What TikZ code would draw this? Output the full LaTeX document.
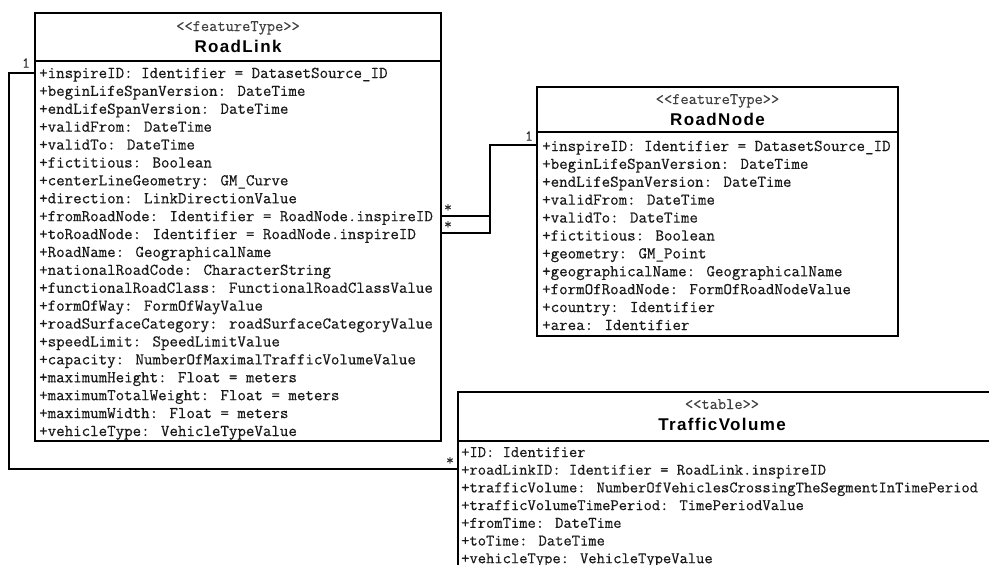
\documentclass[tikz,border=0pt]{standalone}
\usepackage{fontspec}
\setmainfont{Liberation Serif}
\newfontfamily\attrfont[FakeBold=0.4]{Latin Modern Mono}
\newfontfamily\titlefont[LetterSpace=8]{Liberation Sans}
\usetikzlibrary{calc}
\tikzset{
  umlbox/.style={draw=black, line width=1.6pt, fill=white, inner sep=0pt},
  attr/.style={anchor=base west, inner sep=0pt, font=\attrfont\fontsize{16.5}{17}\selectfont, text=black!90},
  tvattr/.style={attr, font=\attrfont\fontsize{16.1}{17}\selectfont},
  stereo/.style={anchor=base, inner sep=0pt, font=\attrfont\fontsize{16}{16}\selectfont, text=black!75},
  umltitle/.style={anchor=base, inner sep=0pt, font=\titlefont\bfseries\fontsize{17}{20}\selectfont},
  mult/.style={inner sep=0pt, font=\attrfont\fontsize{15}{15}\selectfont, text=black!85},
  conn/.style={draw=black, line width=1.6pt},
  divider/.style={draw=black, line width=1.6pt}
}
\begin{document}
\begin{tikzpicture}[x=1pt,y=-1pt]
\useasboundingbox (0,0) rectangle (989,565);
\clip (0,0) rectangle (989,565);
\fill[white] (0,0) rectangle (989,565);

% RoadLink
\node[umlbox, minimum width=406pt, minimum height=428pt] (rl) at (238,227) {};
\draw[divider] ($(rl.north west)+(0,49)$) -- ($(rl.north east)+(0,49)$);
\node[stereo] (rlst) at (238,31) {<<featureType>>};
\node[umltitle] (rlt) at (238,52) {RoadLink};
\foreach \t [count=\i] in {+inspireID: Identifier = DatasetSource\_ID,%
+beginLifeSpanVersion: DateTime,%
+endLifeSpanVersion: DateTime,%
+validFrom: DateTime,%
+validTo: DateTime,%
+fictitious: Boolean,%
+centerLineGeometry: GM\_Curve,%
+direction: LinkDirectionValue,%
+fromRoadNode: Identifier = RoadNode.inspireID,%
+toRoadNode: Identifier = RoadNode.inspireID,%
+RoadName: GeographicalName,%
+nationalRoadCode: CharacterString,%
+functionalRoadClass: FunctionalRoadClassValue,%
+formOfWay: FormOfWayValue,%
+roadSurfaceCategory: roadSurfaceCategoryValue,%
+speedLimit: SpeedLimitValue,%
+capacity: NumberOfMaximalTrafficVolumeValue,%
+maximumHeight: Float = meters,%
+maximumTotalWeight: Float = meters,%
+maximumWidth: Float = meters,%
+vehicleType: VehicleTypeValue}
  \node[attr] (rla\i) at (39,{78+(\i-1)*17.9}) {\t};

% RoadNode
\node[umlbox, minimum width=361pt, minimum height=249pt] (rn) at (717.5,211.5) {};
\draw[divider] ($(rn.north west)+(0,46)$) -- ($(rn.north east)+(0,46)$);
\node[stereo] (rnst) at (717.5,104) {<<featureType>>};
\node[umltitle] (rnt) at (717.5,125) {RoadNode};
\foreach \t [count=\i] in {+inspireID: Identifier = DatasetSource\_ID,%
+beginLifeSpanVersion: DateTime,%
+endLifeSpanVersion: DateTime,%
+validFrom: DateTime,%
+validTo: DateTime,%
+fictitious: Boolean,%
+geometry: GM\_Point,%
+geographicalName: GeographicalName,%
+formOfRoadNode: FormOfRoadNodeValue,%
+country: Identifier,%
+area: Identifier}
  \node[attr] (rna\i) at (542,{151+(\i-1)*17.9}) {\t};

% TrafficVolume
\node[umlbox, minimum width=540pt, minimum height=220pt] (tv) at (728,502) {};
\draw[divider] ($(tv.north west)+(0,50)$) -- ($(tv.north east)+(0,50)$);
\node[stereo] (tvst) at (722,409) {<<table>>};
\node[umltitle] (tvt) at (722,430) {TrafficVolume};
\foreach \t [count=\i] in {+ID: Identifier,%
+roadLinkID: Identifier = RoadLink.inspireID,%
+trafficVolume: NumberOfVehiclesCrossingTheSegmentInTimePeriod,%
+trafficVolumeTimePeriod: TimePeriodValue,%
+fromTime: DateTime,%
+toTime: DateTime,%
+vehicleType: VehicleTypeValue}
  \node[tvattr] (tva\i) at (461,{457+(\i-1)*17.7}) {\t};

% connectors
\coordinate (a1) at ($(rl.north west)+(0,61)$);
\coordinate (a2) at ($(tv.north west)+(0,78)$);
\draw[conn] (a1) -- ++(-25,0) |- (a2);
\coordinate (b1) at ($(rl.north east)+(0,204)$);
\coordinate (b2) at ($(rl.north east)+(0,221)$);
\coordinate (c1) at ($(rn.north west)+(0,59)$);
\draw[conn] (b1) -- ++(48,0) |- (c1);
\draw[conn] (b2) -- ++(48,0) |- (c1);

% multiplicities
\node[mult] (m1) at (26,63) {1};
\node[mult] (m2) at (448,208) {*};
\node[mult] (m3) at (448,225) {*};
\node[mult] (m4) at (529,136) {1};
\node[mult] (m5) at (450,461) {*};
\end{tikzpicture}
\end{document}
